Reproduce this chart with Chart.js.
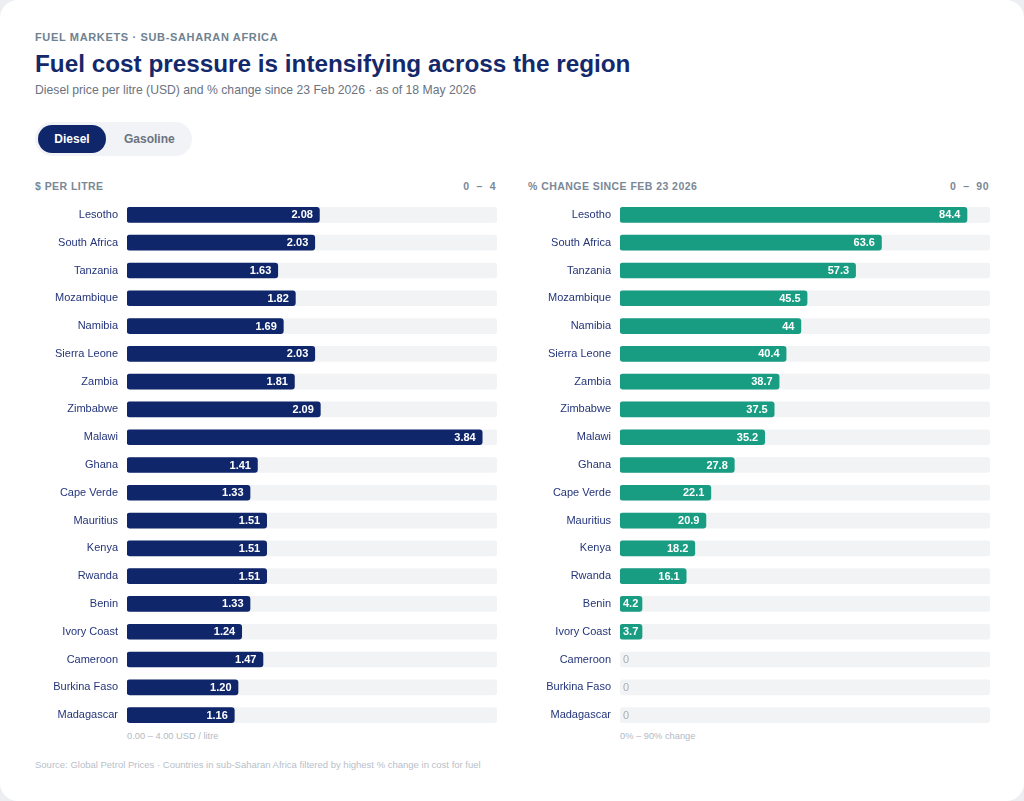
<!DOCTYPE html>
<html><head><meta charset="utf-8">
<script src="https://cdn.jsdelivr.net/npm/chart.js@4.4.1/dist/chart.umd.min.js"></script>
<style>
html,body{margin:0;padding:0;background:#eceef1;}
body{width:1024px;height:801px;position:relative;overflow:hidden;font-family:"Liberation Sans",Arial,sans-serif;}
.card{position:absolute;left:0;top:0;width:1024px;height:801px;background:#fff;border-radius:18px;}
.abs{position:absolute;white-space:nowrap;}
.eyebrow{left:35px;top:31px;font-size:11px;font-weight:700;letter-spacing:0.65px;color:#6e8291;}
.title{left:35px;top:50px;font-size:24.3px;font-weight:700;color:#13296b;}
.sub{left:35px;top:83px;font-size:12.2px;color:#6b7280;}
.toggle{left:35px;top:122px;width:157px;height:34px;background:#f1f3f6;border-radius:17px;}
.on{left:38px;top:125px;width:68px;height:28px;background:#10266a;border-radius:14px;color:#fff;font-size:12px;font-weight:700;text-align:center;line-height:28px;}
.off{left:124px;top:125px;height:28px;line-height:28px;color:#6b7280;font-size:12px;font-weight:700;}
.sec{top:180px;font-size:10.5px;font-weight:700;letter-spacing:0.45px;color:#7a8896;}
.note{top:731px;font-size:9.3px;color:#b3bac3;}
.src{left:35px;top:759px;font-size:9.5px;color:#b8c0c9;}
canvas{position:absolute;}
</style></head>
<body>
<div class="card"></div>
<div class="abs eyebrow">FUEL MARKETS · SUB-SAHARAN AFRICA</div>
<div class="abs title">Fuel cost pressure is intensifying across the region</div>
<div class="abs sub">Diesel price per litre (USD) and % change since 23 Feb 2026 · as of 18 May 2026</div>
<div class="abs toggle"></div>
<div class="abs on">Diesel</div>
<div class="abs off">Gasoline</div>
<div class="abs sec" style="left:35px;">$ PER LITRE</div>
<div class="abs sec" style="right:528px;letter-spacing:0.5px;">0 &nbsp;–&nbsp; 4</div>
<div class="abs sec" style="left:528px;">% CHANGE SINCE FEB 23 2026</div>
<div class="abs sec" style="right:35px;letter-spacing:0.5px;">0 &nbsp;–&nbsp; 90</div>
<div class="abs note" style="left:127px;">0.00 – 4.00 USD / litre</div>
<div class="abs note" style="left:620px;">0% – 90% change</div>
<div class="abs src">Source: Global Petrol Prices · Countries in sub-Saharan Africa filtered by highest % change in cost for fuel</div>
<canvas id="c1" width="462" height="528" style="left:35px;top:201px;width:462px;height:528px;"></canvas>
<canvas id="c2" width="462" height="528" style="left:528px;top:201px;width:462px;height:528px;"></canvas>
<script>
const countries = ["Lesotho","South Africa","Tanzania","Mozambique","Namibia","Sierra Leone","Zambia","Zimbabwe","Malawi","Ghana","Cape Verde","Mauritius","Kenya","Rwanda","Benin","Ivory Coast","Cameroon","Burkina Faso","Madagascar"];
const dieselPrice = [2.08,2.03,1.63,1.82,1.69,2.03,1.81,2.09,3.84,1.41,1.33,1.51,1.51,1.51,1.33,1.24,1.47,1.20,1.16];
const pctChange = [84.4,63.6,57.3,45.5,44,40.4,38.7,37.5,35.2,27.8,22.1,20.9,18.2,16.1,4.2,3.7,0,0,0];
const priceMax = 4;
const pctMax = 90;

const FONT = '"Liberation Sans", Arial, sans-serif';

const labelPlugin = {
  id: 'valueLabels',
  afterDatasetsDraw(chart, args, opts) {
    const ctx = chart.ctx;
    const meta = chart.getDatasetMeta(0);
    const ds = chart.data.datasets[0];
    ctx.save();
    ctx.textBaseline = 'middle';
    meta.data.forEach((bar, i) => {
      const v = ds.data[i];
      const txt = opts.format(v);
      if (v === 0) {
        ctx.font = '11px ' + FONT;
        ctx.fillStyle = '#a7b0ba';
        ctx.textAlign = 'left';
        ctx.fillText(txt, bar.base + 3, bar.y + 0.5);
      } else {
        ctx.font = 'bold 11px ' + FONT;
        ctx.fillStyle = '#ffffff';
        const w = bar.x - bar.base;
        const tw = ctx.measureText(txt).width;
        if (tw + 10 > w) {
          ctx.textAlign = 'left';
          ctx.fillText(txt, bar.base + 3, bar.y + 0.5);
        } else {
          ctx.textAlign = 'right';
          ctx.fillText(txt, bar.x - 6.5, bar.y + 0.5);
        }
      }
    });
    ctx.restore();
  }
};

function makeChart(id, values, max, color, fmt) {
  const track = values.map(() => max);
  return new Chart(document.getElementById(id), {
    type: 'bar',
    data: {
      labels: countries,
      datasets: [
        { data: values, backgroundColor: c => (c.raw === 0 ? 'rgba(0,0,0,0)' : color), borderRadius: 3, borderSkipped: false, barThickness: 15, grouped: false, order: 1, minBarLength: 22 },
        { data: track, backgroundColor: '#f2f3f5', borderRadius: 3, borderSkipped: false, barThickness: 15, grouped: false, order: 2 }
      ]
    },
    options: {
      indexAxis: 'y',
      responsive: false,
      animation: false,
      events: [],
      layout: { padding: 0 },
      plugins: { legend: { display: false }, tooltip: { enabled: false }, valueLabels: { format: fmt } },
      scales: {
        x: { display: false, min: 0, max: max },
        y: {
          grid: { display: false, drawTicks: false },
          border: { display: false },
          ticks: { color: '#24357a', font: { family: FONT, size: 11 }, padding: 9 },
          afterFit(scale) { scale.width = 92; scale.paddingTop = 0; scale.paddingBottom = 0; }
        }
      }
    },
    plugins: [labelPlugin]
  });
}

makeChart('c1', dieselPrice, priceMax, '#10266a', v => v.toFixed(2));
makeChart('c2', pctChange, pctMax, '#189c82', v => String(v));
</script>
</body></html>
